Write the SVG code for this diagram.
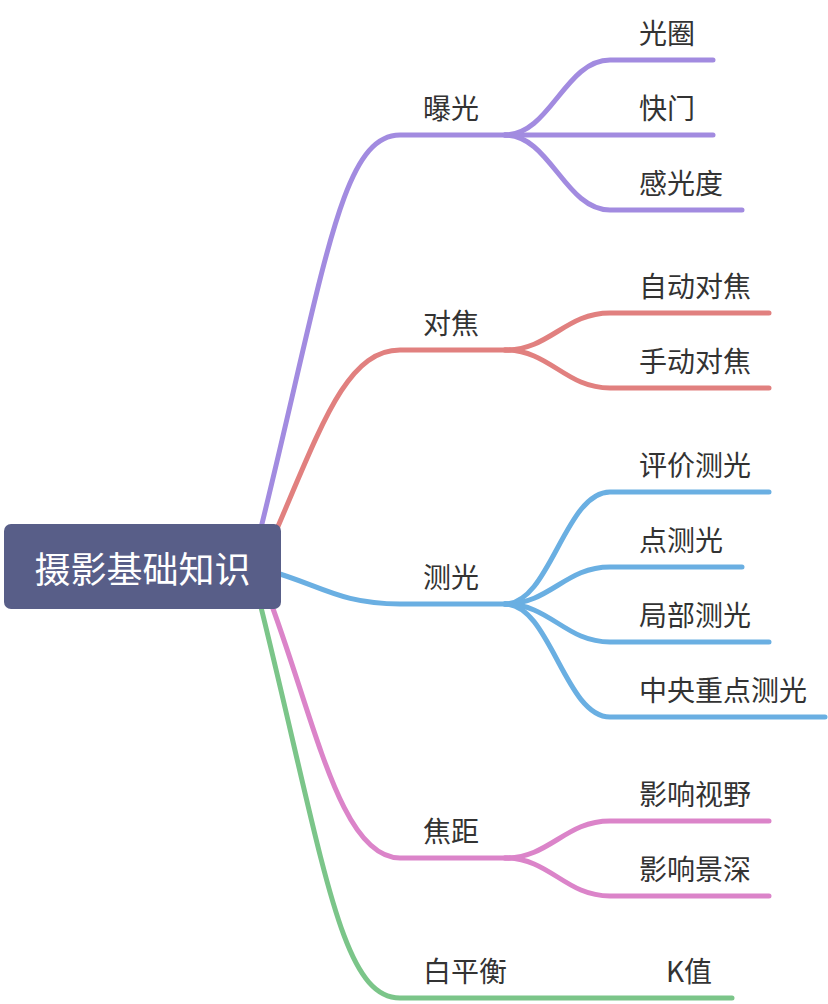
<svg xmlns="http://www.w3.org/2000/svg" width="828" height="1004" viewBox="0 0 828 1004">
<style>
.c{fill:none;stroke-width:5;stroke-linecap:round;stroke-linejoin:round}
.p{stroke:#a28be0}.r{stroke:#e1807f}.b{stroke:#6aafe2}.k{stroke:#db84c9}.g{stroke:#7bc589}
text{font-family:"Noto Sans CJK SC","Noto Sans",sans-serif;font-size:28px;fill:#333}
.root{font-size:36px;fill:#fff;text-anchor:middle}
</style>
<rect width="828" height="1004" fill="#fff"/>
<g id="connectors">
<path class="c p" d="M258 540 C325 270 340 135 400 135 L510 135"/>
<path class="c p" d="M505 135 C550 135 565 60 610 60 L713 60"/>
<path class="c p" d="M505 135 L713 135"/>
<path class="c p" d="M505 135 C550 135 565 210 610 210 L742 210"/>
<path class="c r" d="M270 545 C320 430 345 350 400 350 L510 350"/>
<path class="c r" d="M505 350 C550 350 565 313 610 313 L769 313"/>
<path class="c r" d="M505 350 C550 350 565 388 610 388 L769 388"/>
<path class="c b" d="M270 571 C320 585 340 604 400 604 L510 604"/>
<path class="c b" d="M505 604 C550 604 565 492 610 492 L769 492"/>
<path class="c b" d="M505 604 C550 604 565 567 610 567 L742 567"/>
<path class="c b" d="M505 604 C550 604 565 642 610 642 L769 642"/>
<path class="c b" d="M505 604 C550 604 565 717 610 717 L825 717"/>
<path class="c k" d="M268 595 C315 720 340 858 400 858 L510 858"/>
<path class="c k" d="M505 858 C550 858 565 821 610 821 L769 821"/>
<path class="c k" d="M505 858 C550 858 565 896 610 896 L769 896"/>
<path class="c g" d="M258 595 C325 865 340 998 400 998 L732 998"/>
</g>
<g id="root">
<rect x="4" y="524" width="277" height="85" rx="7" fill="#585e88"/>
<text class="root" x="142.5" y="583">摄影基础知识</text>
</g>
<g id="n-exposure"><text x="423" y="119">曝光</text></g>
<g id="n-aperture"><text x="639" y="44">光圈</text></g>
<g id="n-shutter"><text x="639" y="119">快门</text></g>
<g id="n-iso"><text x="639" y="194">感光度</text></g>
<g id="n-focus"><text x="423" y="334">对焦</text></g>
<g id="n-af"><text x="639" y="297">自动对焦</text></g>
<g id="n-mf"><text x="639" y="372">手动对焦</text></g>
<g id="n-metering"><text x="423" y="588">测光</text></g>
<g id="n-evaluative"><text x="639" y="476">评价测光</text></g>
<g id="n-spot"><text x="639" y="551">点测光</text></g>
<g id="n-partial"><text x="639" y="626">局部测光</text></g>
<g id="n-center"><text x="639" y="701">中央重点测光</text></g>
<g id="n-focal"><text x="423" y="842">焦距</text></g>
<g id="n-fov"><text x="639" y="805">影响视野</text></g>
<g id="n-dof"><text x="639" y="880">影响景深</text></g>
<g id="n-wb"><text x="423" y="982">白平衡</text></g>
<g id="n-k"><text x="666" y="982">K值</text></g>
</svg>
